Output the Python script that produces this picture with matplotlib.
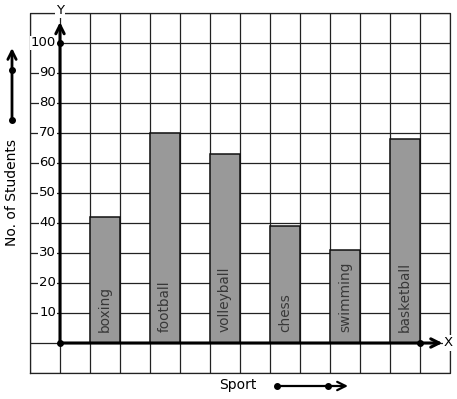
import matplotlib
matplotlib.use("Agg")
import matplotlib.pyplot as plt
import numpy as np

sports = ["boxing", "football", "volleyball", "chess", "swimming", "basketball"]
students = [42, 70, 63, 39, 31, 68]
ytick_values = [10, 20, 30, 40, 50, 60, 70, 80, 90, 100]
x_label = "Sport"
y_label = "No. of Students"

W, H = 457, 399
fig = plt.figure(figsize=(W / 100, H / 100), dpi=100)
ax = fig.add_axes([30 / W, (H - 373) / H, 420 / W, 360 / H])
ax.set_xlim(-1, 13)
ax.set_ylim(-10, 110)
for s in ax.spines.values():
    s.set_visible(False)
ax.set_xticks(np.arange(-1, 14))
ax.set_yticks(np.arange(-10, 111, 10))
ax.tick_params(length=0, labelbottom=False, labelleft=False)
ax.grid(True, color="#222222", linewidth=0.9)
# outer border
ax.plot([-1, 13, 13, -1, -1], [-10, -10, 110, 110, -10], color="#222222", lw=0.9, clip_on=False, zorder=1)
ax.set_axisbelow(True)

xpos = [1.5 + 2 * i for i in range(len(sports))]
ax.bar(xpos, students, width=1.0, color="#999999", edgecolor="#111111", linewidth=1.1, zorder=2)
for x, name in zip(xpos, sports):
    ax.text(x, 3.7, name, rotation=90, ha="center", va="bottom", fontsize=9.8, color="#383838", zorder=3)

# axes with arrows
ax.annotate("", xy=(12.75, 0), xytext=(0, 0),
            arrowprops=dict(arrowstyle="->", lw=2.2, color="black", mutation_scale=15, shrinkA=0, shrinkB=0),
            zorder=4, annotation_clip=False)
ax.annotate("", xy=(0, 107), xytext=(0, 0),
            arrowprops=dict(arrowstyle="->", lw=2.2, color="black", mutation_scale=15, shrinkA=0, shrinkB=0),
            zorder=4, annotation_clip=False)
ax.plot([0, 0, 12], [0, 100, 0], "o", color="black", ms=4, zorder=5, clip_on=False)

for v in ytick_values:
    ax.text(-0.13, v, str(v), ha="right", va="center", fontsize=9.5, color="black", zorder=3,
            bbox=dict(facecolor="white", edgecolor="none", pad=0.6))

ax.text(0, 111, "Y", ha="center", va="center", fontsize=9.5, zorder=3,
        bbox=dict(facecolor="white", edgecolor="none", pad=0.8), clip_on=False)
ax.text(12.95, 0, "X", ha="center", va="center", fontsize=9.5, zorder=3,
        bbox=dict(facecolor="white", edgecolor="none", pad=0.8), clip_on=False)

def fx(px):
    return px / W

def fy(py):
    return 1 - py / H

fig.text(fx(12), fy(192), y_label, rotation=90, ha="center", va="center", fontsize=10, color="black")
fig.text(fx(238), fy(385), x_label, ha="center", va="center", fontsize=10, color="black")

arrow_kw = dict(arrowstyle="->", lw=2.0, color="black", mutation_scale=15, shrinkA=0, shrinkB=0)
fig.patches.append(matplotlib.patches.FancyArrowPatch((fx(12), fy(120)), (fx(12), fy(48)),
                                                      transform=fig.transFigure, **arrow_kw))
fig.patches.append(matplotlib.patches.FancyArrowPatch((fx(277), fy(386)), (fx(348), fy(386)),
                                                      transform=fig.transFigure, lw=1.6, color="black",
                                                      arrowstyle="->", mutation_scale=15, shrinkA=0, shrinkB=0))
fig.lines.append(matplotlib.lines.Line2D([fx(12), fx(12)], [fy(120), fy(70)], marker="o", ls="none",
                                         color="black", ms=4, transform=fig.transFigure))
fig.lines.append(matplotlib.lines.Line2D([fx(277), fx(328)], [fy(386), fy(386)], marker="o", ls="none",
                                         color="black", ms=4, transform=fig.transFigure))

fig.savefig("out.png", dpi=100)
